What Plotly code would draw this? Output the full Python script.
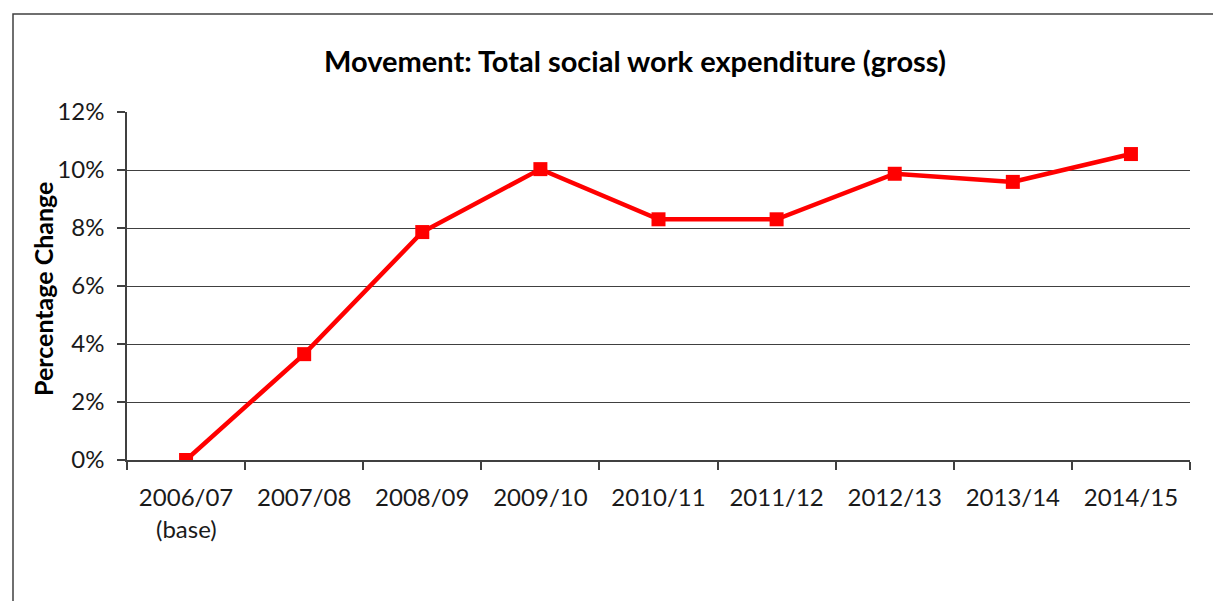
import plotly.graph_objects as go

categories = ["2006/07", "2007/08", "2008/09", "2009/10", "2010/11",
              "2011/12", "2012/13", "2013/14", "2014/15"]
pct_change = [0.0, 3.65, 7.86, 10.03, 8.30, 8.30, 9.87, 9.59, 10.55]
base_note = "(base)"
y_ticks = [0, 2, 4, 6, 8, 10, 12]
y_tick_labels = ["0%", "2%", "4%", "6%", "8%", "10%", "12%"]

FONT = "Lato"
GRID = "#404040"
TXT = "#1a1a1a"

# page body has an 8px margin, so the figure is drawn 8px smaller/offset
W, H = 1213, 593
PL, PR, PT, PB = 119, 1182, 104, 452  # plot area in figure pixels
PW, PH = PR - PL, PB - PT

fig = go.Figure()
fig.add_trace(go.Scatter(
    x=categories, y=pct_change, mode="lines+markers",
    line=dict(color="#FF0000", width=4.5),
    marker=dict(symbol="square", size=14, color="#FF0000"),
    showlegend=False, hoverinfo="x+y",
))

fig.update_layout(
    width=W, height=H,
    margin=dict(l=PL, r=W - PR, t=PT, b=H - PB),
    paper_bgcolor="white", plot_bgcolor="white",
    font=dict(family=FONT, color=TXT, size=24),
    title=dict(text="<b>Movement: Total social work expenditure (gross)</b>",
               x=627 / W, xref="container", xanchor="center",
               y=1 - 54 / H, yref="container", yanchor="middle",
               font=dict(family=FONT, size=29, color="#000000")),
)
fig.update_xaxes(
    type="category", range=[-0.5, len(categories) - 0.5],
    showline=True, linecolor=GRID, linewidth=1.5,
    ticks="outside", tickson="boundaries", ticklen=8, tickcolor=GRID, tickwidth=1.5,
    showgrid=False, tickfont=dict(size=24, family=FONT, color=TXT),
    ticklabelstandoff=15,
)
fig.update_yaxes(
    range=[0, 12], tickvals=y_ticks, ticktext=y_tick_labels,
    showline=True, linecolor=GRID, linewidth=1.5,
    ticks="outside", ticklen=8, tickcolor=GRID, tickwidth=1.5,
    showgrid=True, gridcolor=GRID, gridwidth=1.2,
    zeroline=False, tickfont=dict(size=24, family=FONT, color=TXT),
    ticklabelstandoff=8,
)
# y-axis title
fig.add_annotation(
    text="<b>Percentage Change</b>", textangle=-90,
    xref="paper", yref="paper", x=(35 - PL) / PW, y=(PB - 281) / PH,
    xanchor="center", yanchor="middle", showarrow=False,
    font=dict(family=FONT, size=25, color="#000000"),
)
# second line under the first category label
fig.add_annotation(
    text=base_note, xref="x", yref="paper", x=categories[0],
    y=(PB - 520) / PH, xanchor="center", yanchor="middle", showarrow=False,
    font=dict(family=FONT, size=24, color=TXT),
)
# chart-area border
fig.add_shape(
    type="rect", xref="paper", yref="paper",
    x0=(5 - PL) / PW, x1=(1240 - PL) / PW,
    y0=(PB - 620) / PH, y1=(PB - 6) / PH,
    line=dict(color="#404040", width=1.5), fillcolor="rgba(0,0,0,0)", layer="below",
)

fig.write_html("out.html")
